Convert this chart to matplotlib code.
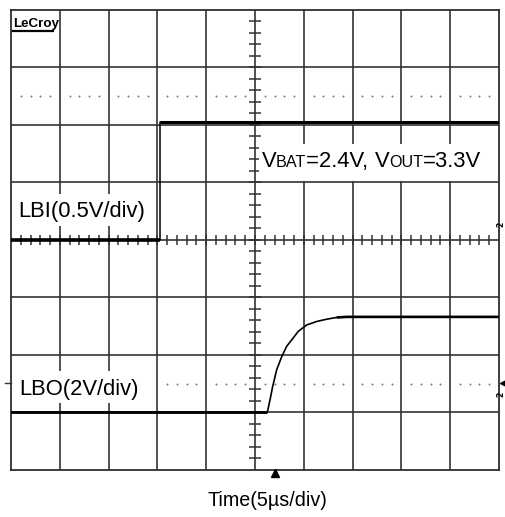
import matplotlib
matplotlib.use('Agg')
import matplotlib.pyplot as plt
from matplotlib.patches import Rectangle
import numpy as np

# ---------------- data (time in microseconds, amplitude in screen divisions) ----------------
time_lbi = [0.0, 15.27, 15.27, 50.0]
lbi_div = [4.0, 4.0, 6.04, 6.04]

time_lbo = [0.0, 26.26, 26.54, 26.81, 27.22, 27.74, 28.25, 28.76, 29.44,
            30.30, 31.32, 32.35, 33.37, 34.40, 50.0]
lbo_div = [1.0, 1.0, 1.22, 1.45, 1.74, 1.97, 2.15, 2.26, 2.41,
           2.52, 2.58, 2.62, 2.65, 2.66, 2.66]

lbi_label = 'LBI(0.5V/div)'
lbo_label = 'LBO(2V/div)'
time_label = 'Time(5\u00b5s/div)'
cond_pieces = [('V', 'big'), ('BAT', 'small'), ('=2.4V, ', 'big'),
               ('V', 'big'), ('OUT', 'small'), ('=3.3V', 'big')]
trigger_time = 27.05

# ---------------- figure ----------------
W, H = 506, 517
fig = plt.figure(figsize=(W / 100, H / 100), dpi=100)
fig.patch.set_facecolor('white')
ax = fig.add_axes([11 / W, 47 / H, 488 / W, 460.5 / H])
ax.set_xlim(0, 50)
ax.set_ylim(0, 8)
ax.set_xticks([])
ax.set_yticks([])
for s in ax.spines.values():
    s.set_color('#2e2e2e')
    s.set_linewidth(1.3)

GRID = '#333333'
for x in np.arange(5, 50, 5):
    ax.axvline(x, color=GRID, lw=1.2, zorder=1)
for y in np.arange(1, 8, 1):
    ax.axhline(y, color=GRID, lw=1.2, zorder=1)

# centre-line minor ticks
tx = np.arange(1, 50, 1)
ax.plot(tx, np.full(tx.shape, 4.0), ls='none', marker='|', ms=7, mew=1.1,
        color=GRID, zorder=1)
ty = np.arange(0.2, 8, 0.2)
ax.plot(np.full(ty.shape, 25.0), ty, ls='none', marker='_', ms=8.5, mew=1.1,
        color=GRID, zorder=1)

# dotted reference rows
dx = np.array([v for v in range(1, 50) if v % 5 != 0])
ax.plot(dx, np.full(dx.shape, 6.5), ls='none', marker='o', ms=1.4, mew=0,
        color='#777777', zorder=1)
dx2 = dx[dx > 15]
ax.plot(dx2, np.full(dx2.shape, 1.5), ls='none', marker='o', ms=1.4, mew=0,
        color='#777777', zorder=1)

# white label boxes (hide grid under text)
def fig_rect(x0, y0, x1, y1):
    fig.patches.append(Rectangle((x0 / W, 1 - y1 / H), (x1 - x0) / W, (y1 - y0) / H,
                                 transform=fig.transFigure, facecolor='white',
                                 edgecolor='none', zorder=2))

# ---------------- traces ----------------
ax.plot(time_lbi, lbi_div, color='black', lw=1.1, zorder=5)
ax.plot(time_lbi[:2], lbi_div[:2], color='black', lw=2.6, zorder=5, solid_capstyle='butt')
ax.plot(time_lbi[2:], lbi_div[2:], color='black', lw=2.2, zorder=5, solid_capstyle='butt')

ax.plot(time_lbo, lbo_div, color='black', lw=1.2, zorder=5)
ax.plot(time_lbo[:2], lbo_div[:2], color='black', lw=2.0, zorder=5, solid_capstyle='butt')
ax.plot(time_lbo[-3:], lbo_div[-3:], color='black', lw=1.9, zorder=5, solid_capstyle='butt')

# trigger marker & level markers
ax.plot([trigger_time], [-0.06], marker='^', ms=6, color='black', clip_on=False, zorder=6)
ax.plot([-0.6, 0], [1.51, 1.51], color='#333333', lw=1.0, clip_on=False)
ax.plot([50.45], [1.51], marker='<', ms=4.5, color='black', clip_on=False)

# ---------------- text ----------------
FONT = 'Liberation Sans'
BIG = 15.8
SMALL = 11.6

fig_rect(13, 194, 152, 226)
fig.text(18 / W, 1 - 216.7 / H, lbi_label, fontsize=BIG, family=FONT,
         ha='left', va='baseline', zorder=3)
fig_rect(13, 371, 152, 403)
fig.text(19 / W, 1 - 395 / H, lbo_label, fontsize=BIG, family=FONT,
         ha='left', va='baseline', zorder=3)

fig.text(267 / W, 1 - 506.5 / H, time_label, fontsize=14.2, family=FONT,
         ha='center', va='baseline')

fig_rect(259, 144, 486, 181)
renderer = fig.canvas.get_renderer()
xpos = 261.5
for txt, kind in cond_pieces:
    t = fig.text(xpos / W, 1 - 166.7 / H, txt, fontsize=BIG if kind == 'big' else SMALL,
                 family=FONT, ha='left', va='baseline', zorder=3)
    bb = t.get_window_extent(renderer)
    xpos = bb.x1

# LeCroy logo
fig_rect(12, 11, 58, 34)
fig.text(13 / W, 1 - 27 / H, 'LeCroy', fontsize=9.6, fontweight='bold',
         family='Liberation Sans', ha='left', va='baseline', zorder=3)
fig.add_artist(plt.Line2D([13 / W, 53 / W], [1 - 30.5 / H, 1 - 30.5 / H],
                          color='black', lw=1.6, transform=fig.transFigure, zorder=5))

# channel markers at right edge
fig.text(505.5 / W, 1 - 224 / H, '2', fontsize=5.5, fontweight='bold', rotation=90,
         ha='right', va='center', family='DejaVu Sans')
fig.text(505.5 / W, 1 - 394 / H, '2', fontsize=5.5, fontweight='bold', rotation=90,
         ha='right', va='center', family='DejaVu Sans')

fig.savefig('out.png', dpi=100, facecolor='white')
